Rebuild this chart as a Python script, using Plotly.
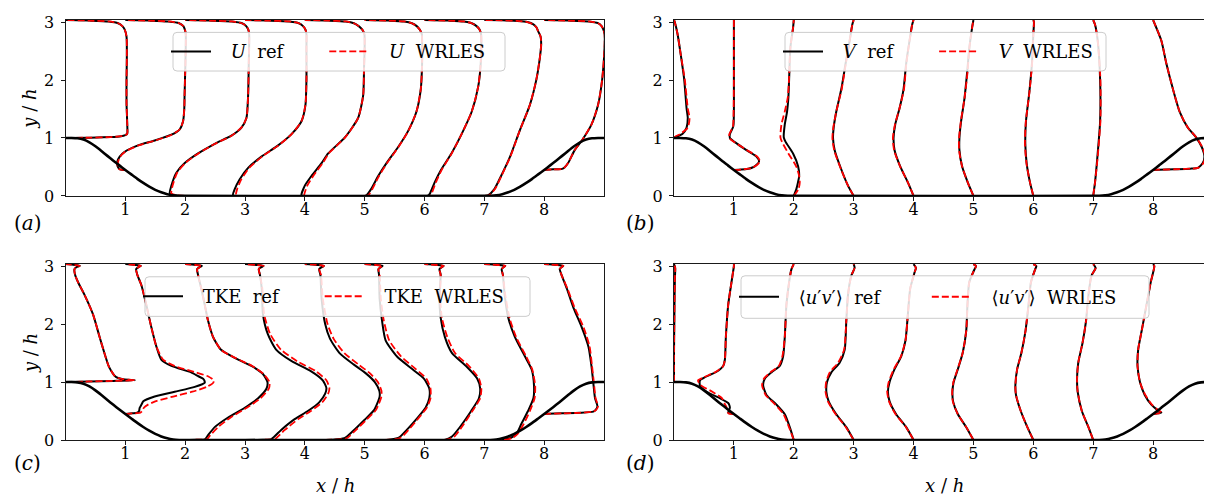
import plotly.graph_objects as go

# ---------------- data ----------------
STATIONS = [0, 1, 2, 3, 4, 5, 6, 7, 8]
X_TICKS = [1, 2, 3, 4, 5, 6, 7, 8]
Y_TICKS = [0, 1, 2, 3]
X_MAX = 9.0
Y_MAX = 3.035

# hill contour (left half; right half is its mirror image at x = 9)
HILL_X = [0.0, 0.1, 0.2, 0.3, 0.4, 0.5, 0.6, 0.7, 0.8, 0.9, 1.0, 1.1, 1.2, 1.3,
          1.4, 1.5, 1.6, 1.7, 1.8, 1.9, 1.929]
HILL_Y = [1.0, 1.0, 0.994, 0.972, 0.925, 0.857, 0.776, 0.691, 0.607, 0.527, 0.448,
          0.371, 0.295, 0.224, 0.160, 0.105, 0.062, 0.030, 0.010, 0.001, 0.0]

# profiles: values are given in plot units (profile displacement from its station)
# ---- (a) U ----
U_Y = [
    [1.0, 1.005, 1.015, 1.03, 1.05, 1.07, 1.1, 1.3, 1.6, 2.0, 2.4, 2.75, 2.87, 2.93, 2.98, 3.01, 3.025, 3.035],
    [0.448, 0.46, 0.5, 0.594, 0.678, 0.761, 0.872, 0.956, 1.056, 1.15, 1.289, 1.5, 1.733, 2.289, 2.79, 2.87, 2.93, 2.98, 3.01, 3.025, 3.035],
    [0, 0.008, 0.04, 0.178, 0.4, 0.567, 0.733, 0.9, 1.039, 1.178, 1.344, 1.733, 2.289, 2.79, 2.87, 2.93, 2.98, 3.01, 3.025, 3.035],
    [0, 0.01, 0.122, 0.289, 0.483, 0.678, 0.872, 1.067, 1.289, 1.567, 2.01, 2.567, 2.79, 2.87, 2.93, 2.98, 3.01, 3.025, 3.035],
    [0, 0.011, 0.178, 0.344, 0.567, 0.733, 1.01, 1.344, 1.733, 2.233, 2.567, 2.79, 2.87, 2.93, 2.98, 3.01, 3.025, 3.035],
    [0, 0.01, 0.122, 0.344, 0.567, 0.844, 1.122, 1.456, 1.844, 2.289, 2.678, 2.79, 2.87, 2.93, 2.98, 3.01, 3.025, 3.035],
    [0, 0.005, 0.04, 0.233, 0.456, 0.733, 1.067, 1.456, 1.9, 2.289, 2.678, 2.79, 2.87, 2.93, 2.98, 3.01, 3.025, 3.035],
    [0, 0.01, 0.122, 0.344, 0.678, 1.122, 1.567, 2.01, 2.4, 2.62, 2.75, 2.84, 2.91, 2.96, 3.0, 3.02, 3.03, 3.035],
    [0.448, 0.452, 0.458, 0.467, 0.49, 0.567, 0.79, 0.956, 1.23, 1.567, 2.01, 2.57, 2.79, 2.87, 2.93, 2.98, 3.01, 3.025, 3.035],
]
U_REF = [
    [0, 0.4, 0.75, 0.93, 1.0, 1.03, 1.035, 1.03, 1.02, 1.02, 1.025, 1.02, 0.99, 0.95, 0.88, 0.72, 0.4, 0],
    [0, -0.09, -0.125, -0.133, -0.094, -0.011, 0.212, 0.491, 0.77, 0.909, 0.965, 0.985, 0.99, 1.004, 1.01, 0.995, 0.97, 0.9, 0.72, 0.4, 0],
    [0, -0.15, -0.258, -0.23, -0.147, -0.007, 0.215, 0.494, 0.773, 0.94, 1.024, 1.052, 1.063, 1.07, 1.055, 1.02, 0.95, 0.78, 0.4, 0],
    [0, -0.2, -0.17, -0.088, 0.052, 0.275, 0.554, 0.777, 0.944, 1.01, 1.027, 1.027, 1.027, 1.01, 0.97, 0.9, 0.74, 0.4, 0],
    [0, -0.056, 0.0, 0.11, 0.28, 0.39, 0.67, 0.89, 0.975, 0.99, 1.0, 0.995, 0.96, 0.9, 0.82, 0.68, 0.4, 0],
    [0, 0.03, 0.11, 0.226, 0.365, 0.56, 0.727, 0.866, 0.938, 0.96, 0.96, 0.955, 0.92, 0.87, 0.79, 0.66, 0.4, 0],
    [0, 0.06, 0.09, 0.17, 0.28, 0.45, 0.62, 0.79, 0.9, 0.94, 0.95, 0.945, 0.92, 0.87, 0.79, 0.66, 0.4, 0],
    [0, 0.06, 0.17, 0.28, 0.43, 0.59, 0.76, 0.87, 0.93, 0.95, 0.94, 0.9, 0.87, 0.82, 0.72, 0.55, 0.3, 0],
    [0, 0.04, 0.15, 0.3, 0.34, 0.4, 0.51, 0.63, 0.79, 0.9, 0.97, 1.01, 1.01, 0.99, 0.96, 0.9, 0.75, 0.4, 0],
]
U_LES = [
    [0, 0.4, 0.75, 0.93, 1.0, 1.03, 1.035, 1.03, 1.02, 1.02, 1.025, 1.02, 0.99, 0.95, 0.88, 0.72, 0.4, 0],
    [0, -0.1, -0.13, -0.12, -0.085, -0.005, 0.22, 0.5, 0.775, 0.91, 0.965, 0.985, 0.99, 1.004, 1.01, 0.995, 0.97, 0.9, 0.72, 0.4, 0],
    [0, -0.12, -0.23, -0.21, -0.135, 0.0, 0.22, 0.5, 0.775, 0.94, 1.024, 1.052, 1.063, 1.07, 1.055, 1.02, 0.95, 0.78, 0.4, 0],
    [0, -0.15, -0.13, -0.06, 0.07, 0.285, 0.56, 0.78, 0.944, 1.01, 1.027, 1.027, 1.027, 1.01, 0.97, 0.9, 0.74, 0.4, 0],
    [0, -0.01, 0.04, 0.14, 0.3, 0.4, 0.675, 0.89, 0.975, 0.99, 1.0, 0.995, 0.96, 0.9, 0.82, 0.68, 0.4, 0],
    [0, 0.06, 0.13, 0.24, 0.375, 0.565, 0.73, 0.866, 0.938, 0.96, 0.96, 0.955, 0.92, 0.87, 0.79, 0.66, 0.4, 0],
    [0, 0.1, 0.12, 0.19, 0.29, 0.455, 0.62, 0.79, 0.9, 0.94, 0.95, 0.945, 0.92, 0.87, 0.79, 0.66, 0.4, 0],
    [0, 0.08, 0.18, 0.285, 0.435, 0.59, 0.76, 0.87, 0.93, 0.95, 0.94, 0.9, 0.87, 0.82, 0.72, 0.55, 0.3, 0],
    [0, 0.04, 0.15, 0.3, 0.34, 0.4, 0.51, 0.63, 0.79, 0.9, 0.97, 1.01, 1.01, 0.99, 0.96, 0.9, 0.75, 0.4, 0],
]

# ---- (b) V ----
V_Y = [
    [1.0, 1.03, 1.067, 1.178, 1.344, 1.511, 2.01, 2.456, 2.79, 3.01, 3.035],
    [0.448, 0.455, 0.47, 0.49, 0.53, 0.594, 0.678, 0.789, 0.928, 1.0, 1.067, 1.2, 1.456, 2.01, 2.567, 3.035],
    [0, 0.122, 0.233, 0.344, 0.511, 0.733, 0.928, 1.011, 1.233, 1.456, 1.7, 2.01, 2.567, 2.9, 3.035],
    [0, 0.178, 0.456, 0.789, 1.0, 1.178, 1.456, 1.844, 2.289, 2.678, 2.956, 3.035],
    [0, 0.233, 0.511, 0.789, 1.0, 1.233, 1.511, 1.844, 2.289, 2.678, 2.956, 3.035],
    [0, 0.233, 0.511, 0.789, 1.0, 1.289, 1.678, 2.122, 2.567, 2.9, 3.035],
    [0, 0.233, 0.567, 0.9, 1.289, 1.789, 2.289, 2.79, 3.0, 3.035],
    [0, 0.233, 0.678, 1.289, 2.01, 2.678, 2.956, 3.035],
    [0.448, 0.452, 0.46, 0.47, 0.483, 0.567, 0.678, 0.844, 1.011, 1.178, 1.456, 1.844, 2.289, 2.678, 3.035],
]
V_REF = [
    [0, 0.06, 0.14, 0.21, 0.23, 0.21, 0.17, 0.11, 0.06, 0.01, 0],
    [0, 0.12, 0.24, 0.31, 0.37, 0.42, 0.377, 0.21, 0.017, -0.067, -0.067, -0.01, 0.0, 0.0, 0.0, 0],
    [0, 0.044, 0.07, 0.09, 0.072, -0.012, -0.134, -0.167, -0.15, -0.112, -0.09, -0.078, -0.056, -0.012, 0],
    [0, -0.095, -0.206, -0.317, -0.345, -0.334, -0.29, -0.206, -0.134, -0.067, -0.023, 0],
    [0, -0.095, -0.223, -0.317, -0.334, -0.306, -0.234, -0.167, -0.123, -0.067, -0.023, 0],
    [0, -0.095, -0.19, -0.234, -0.234, -0.206, -0.15, -0.106, -0.067, -0.023, 0],
    [0, -0.056, -0.112, -0.134, -0.123, -0.067, -0.023, 0.0, 0.01, 0],
    [0, 0.03, 0.07, 0.115, 0.115, 0.075, 0.03, 0],
    [0.0, 0.1, 0.35, 0.62, 0.746, 0.829, 0.857, 0.812, 0.718, 0.58, 0.442, 0.331, 0.22, 0.138, 0.0],
]
V_LES = [
    [0, 0.03, 0.1, 0.23, 0.26, 0.23, 0.18, 0.11, 0.06, 0.01, 0],
    [0, 0.12, 0.24, 0.31, 0.38, 0.435, 0.39, 0.22, 0.01, -0.08, -0.075, -0.015, -0.005, 0.0, 0.0, 0],
    [0, 0.08, 0.1, 0.09, 0.04, -0.09, -0.195, -0.223, -0.206, -0.15, -0.1, -0.08, -0.056, -0.012, 0],
    [0, -0.095, -0.21, -0.325, -0.355, -0.34, -0.29, -0.2, -0.13, -0.067, -0.023, 0],
    [0, -0.095, -0.225, -0.325, -0.345, -0.31, -0.234, -0.16, -0.12, -0.067, -0.023, 0],
    [0, -0.095, -0.19, -0.24, -0.24, -0.21, -0.15, -0.1, -0.067, -0.023, 0],
    [0, -0.056, -0.115, -0.14, -0.125, -0.065, -0.02, 0.0, 0.01, 0],
    [0, 0.03, 0.075, 0.12, 0.12, 0.075, 0.03, 0],
    [0.0, 0.1, 0.35, 0.62, 0.75, 0.84, 0.87, 0.82, 0.72, 0.58, 0.442, 0.331, 0.22, 0.138, 0.0],
]

# ---- (c) TKE ----
K_Y = [
    [1.0, 1.01, 1.02, 1.032, 1.04, 1.05, 1.07, 1.11, 1.2, 1.278, 1.5, 1.778, 2.167, 2.5, 2.722, 2.85, 2.95, 2.99, 3.005, 3.02, 3.035],
    [0.448, 0.46, 0.47, 0.5, 0.528, 0.556, 0.611, 0.667, 0.75, 0.833, 0.917, 0.989, 1.028, 1.056, 1.1, 1.167, 1.278, 1.389, 1.611, 1.944, 2.333, 2.667, 2.85, 2.95, 2.99, 3.005, 3.02, 3.035],
    [0, 0.005, 0.012, 0.083, 0.222, 0.389, 0.556, 0.722, 0.889, 1.0, 1.139, 1.278, 1.417, 1.556, 1.778, 2.056, 2.333, 2.611, 2.85, 2.95, 2.99, 3.005, 3.02, 3.035],
    [0, 0.005, 0.015, 0.17, 0.36, 0.5, 0.65, 0.8, 0.9, 1.03, 1.19, 1.36, 1.56, 1.83, 2.17, 2.61, 2.85, 2.95, 2.99, 3.005, 3.02, 3.035],
    [0, 0.005, 0.03, 0.15, 0.35, 0.52, 0.75, 0.85, 1.0, 1.15, 1.3, 1.5, 1.75, 2.0, 2.44, 2.85, 2.95, 2.99, 3.005, 3.02, 3.035],
    [0, 0.005, 0.04, 0.17, 0.39, 0.56, 0.72, 0.89, 1.06, 1.22, 1.44, 1.72, 2.06, 2.44, 2.85, 2.95, 2.99, 3.005, 3.02, 3.035],
    [0, 0.005, 0.06, 0.22, 0.5, 0.72, 0.89, 1.06, 1.28, 1.5, 1.78, 2.11, 2.5, 2.85, 2.95, 2.99, 3.005, 3.02, 3.035],
    [0, 0.005, 0.03, 0.11, 0.28, 0.5, 0.72, 0.94, 1.22, 1.44, 1.78, 2.11, 2.5, 2.85, 2.95, 2.99, 3.005, 3.02, 3.035],
    [0.448, 0.452, 0.46, 0.47, 0.49, 0.52, 0.583, 0.72, 1.0, 1.28, 1.61, 1.94, 2.28, 2.61, 2.85, 2.95, 2.99, 3.005, 3.02, 3.035],
]
K_REF = [
    [0, 0.4, 0.8, 1.16, 1.05, 0.96, 0.88, 0.82, 0.76, 0.72, 0.65, 0.57, 0.46, 0.32, 0.21, 0.16, 0.15, 0.2, 0.24, 0.15, 0],
    [0, 0.12, 0.2, 0.23, 0.235, 0.24, 0.27, 0.3, 0.49, 0.825, 1.16, 1.327, 1.32, 1.3, 1.22, 1.1, 0.77, 0.6, 0.519, 0.435, 0.35, 0.27, 0.2, 0.18, 0.23, 0.26, 0.16, 0],
    [0, 0.2, 0.33, 0.383, 0.494, 0.717, 0.996, 1.22, 1.36, 1.375, 1.3, 1.108, 0.829, 0.6, 0.466, 0.383, 0.327, 0.27, 0.215, 0.2, 0.26, 0.28, 0.17, 0],
    [0, 0.3, 0.44, 0.6, 0.83, 1.05, 1.24, 1.34, 1.36, 1.3, 1.1, 0.78, 0.52, 0.38, 0.3, 0.28, 0.25, 0.23, 0.29, 0.31, 0.19, 0],
    [0, 0.45, 0.66, 0.8, 1.0, 1.16, 1.25, 1.245, 1.17, 1.02, 0.82, 0.58, 0.42, 0.34, 0.28, 0.26, 0.24, 0.3, 0.32, 0.2, 0],
    [0, 0.4, 0.57, 0.7, 0.89, 1.02, 1.08, 1.08, 0.99, 0.8, 0.54, 0.35, 0.29, 0.25, 0.24, 0.23, 0.28, 0.3, 0.18, 0],
    [0, 0.35, 0.46, 0.59, 0.78, 0.91, 0.93, 0.88, 0.69, 0.46, 0.34, 0.27, 0.25, 0.27, 0.25, 0.3, 0.32, 0.2, 0],
    [0, 0.3, 0.43, 0.54, 0.62, 0.73, 0.82, 0.83, 0.79, 0.68, 0.51, 0.4, 0.34, 0.31, 0.29, 0.33, 0.35, 0.22, 0],
    [0, 0.05, 0.3, 0.6, 0.82, 0.86, 0.89, 0.85, 0.82, 0.79, 0.74, 0.63, 0.49, 0.38, 0.29, 0.26, 0.3, 0.32, 0.2, 0],
]
K_LES = [
    [0, 0.4, 0.8, 1.16, 1.05, 0.96, 0.88, 0.82, 0.76, 0.72, 0.65, 0.57, 0.46, 0.32, 0.21, 0.16, 0.15, 0.2, 0.24, 0.15, 0],
    [0, 0.12, 0.25, 0.28, 0.296, 0.31, 0.38, 0.5, 0.8, 1.12, 1.36, 1.47, 1.48, 1.45, 1.38, 1.18, 0.82, 0.63, 0.519, 0.435, 0.35, 0.27, 0.2, 0.18, 0.23, 0.26, 0.16, 0],
    [0, 0.2, 0.36, 0.42, 0.55, 0.76, 1.03, 1.26, 1.4, 1.41, 1.31, 1.12, 0.835, 0.6, 0.466, 0.383, 0.327, 0.27, 0.215, 0.2, 0.26, 0.28, 0.17, 0],
    [0, 0.32, 0.5, 0.66, 0.89, 1.1, 1.29, 1.39, 1.41, 1.36, 1.18, 0.87, 0.6, 0.42, 0.32, 0.29, 0.25, 0.23, 0.29, 0.31, 0.19, 0],
    [0, 0.47, 0.7, 0.83, 1.03, 1.19, 1.28, 1.28, 1.22, 1.09, 0.9, 0.66, 0.48, 0.38, 0.3, 0.27, 0.24, 0.3, 0.32, 0.2, 0],
    [0, 0.42, 0.6, 0.73, 0.91, 1.04, 1.1, 1.1, 1.03, 0.86, 0.61, 0.41, 0.32, 0.27, 0.25, 0.23, 0.28, 0.3, 0.18, 0],
    [0, 0.37, 0.5, 0.62, 0.8, 0.93, 0.95, 0.91, 0.74, 0.51, 0.38, 0.29, 0.26, 0.27, 0.25, 0.3, 0.32, 0.2, 0],
    [0, 0.32, 0.46, 0.56, 0.66, 0.76, 0.84, 0.85, 0.8, 0.7, 0.53, 0.42, 0.35, 0.31, 0.29, 0.33, 0.35, 0.22, 0],
    [0, 0.05, 0.3, 0.6, 0.82, 0.87, 0.9, 0.86, 0.83, 0.8, 0.76, 0.66, 0.51, 0.39, 0.29, 0.26, 0.3, 0.32, 0.2, 0],
]

# ---- (d) <u'v'> ----
UV_Y = [
    [1.0, 1.5, 2.0, 2.5, 2.8, 2.97, 3.035],
    [0.448, 0.46, 0.472, 0.52, 0.556, 0.6, 0.639, 0.722, 0.833, 0.944, 1.028, 1.083, 1.178, 1.278, 1.389, 1.778, 2.333, 2.722, 3.0, 3.035],
    [0, 0.222, 0.444, 0.611, 0.778, 0.944, 1.056, 1.167, 1.278, 1.444, 1.778, 2.333, 2.722, 2.944, 3.035],
    [0, 0.222, 0.444, 0.667, 0.833, 1.0, 1.167, 1.333, 1.556, 2.056, 2.5, 2.833, 2.972, 3.035],
    [0, 0.222, 0.444, 0.667, 0.833, 1.0, 1.222, 1.444, 1.722, 2.167, 2.611, 2.889, 2.97, 3.035],
    [0, 0.222, 0.444, 0.667, 0.833, 1.0, 1.222, 1.5, 1.889, 2.333, 2.722, 2.944, 3.0, 3.035],
    [0, 0.222, 0.5, 0.778, 0.944, 1.222, 1.5, 1.889, 2.333, 2.722, 2.944, 3.0, 3.035],
    [0, 0.222, 0.5, 0.833, 1.056, 1.333, 1.667, 2.056, 2.5, 2.833, 2.97, 3.035],
    [0.448, 0.46, 0.472, 0.52, 0.611, 0.778, 1.0, 1.278, 1.556, 1.889, 2.333, 2.722, 3.0, 3.035],
]
UV_REF = [
    [0, 0.0, 0.005, 0.01, 0.015, 0.02, 0],
    [0, -0.06, -0.095, -0.08, -0.067, -0.075, -0.095, -0.234, -0.456, -0.567, -0.567, -0.484, -0.29, -0.178, -0.15, -0.134, -0.095, -0.04, 0, 0],
    [0, -0.067, -0.15, -0.29, -0.456, -0.512, -0.484, -0.373, -0.234, -0.178, -0.15, -0.123, -0.078, -0.04, 0],
    [0, -0.123, -0.29, -0.417, -0.456, -0.445, -0.373, -0.234, -0.15, -0.123, -0.095, -0.04, 0.016, 0],
    [0, -0.123, -0.29, -0.4, -0.428, -0.4, -0.317, -0.206, -0.134, -0.095, -0.056, 0.016, 0.04, 0],
    [0, -0.12, -0.26, -0.34, -0.35, -0.33, -0.26, -0.18, -0.12, -0.1, -0.07, 0.017, 0.044, 0],
    [0, -0.1, -0.21, -0.29, -0.3, -0.27, -0.2, -0.13, -0.08, -0.04, 0.03, 0.05, 0],
    [0, -0.08, -0.19, -0.26, -0.27, -0.25, -0.18, -0.12, -0.08, -0.03, 0.04, 0],
    [0, 0.08, 0.14, 0.07, -0.03, -0.14, -0.22, -0.26, -0.25, -0.19, -0.11, -0.04, 0.02, 0],
]
UV_LES = [
    [0, 0.0, 0.005, 0.01, 0.015, 0.02, 0],
    [0, -0.09, -0.1, -0.11, -0.12, -0.14, -0.16, -0.2, -0.36, -0.55, -0.6, -0.5, -0.3, -0.178, -0.15, -0.134, -0.095, -0.04, 0, 0],
    [0, -0.08, -0.17, -0.31, -0.47, -0.53, -0.5, -0.39, -0.25, -0.19, -0.15, -0.123, -0.078, -0.04, 0],
    [0, -0.13, -0.3, -0.43, -0.47, -0.46, -0.4, -0.26, -0.16, -0.123, -0.095, -0.04, 0.016, 0],
    [0, -0.125, -0.3, -0.41, -0.44, -0.415, -0.33, -0.21, -0.134, -0.095, -0.056, 0.016, 0.04, 0],
    [0, -0.12, -0.26, -0.345, -0.355, -0.335, -0.265, -0.18, -0.12, -0.1, -0.07, 0.017, 0.044, 0],
    [0, -0.1, -0.21, -0.29, -0.3, -0.27, -0.2, -0.13, -0.08, -0.04, 0.03, 0.05, 0],
    [0, -0.08, -0.19, -0.26, -0.27, -0.25, -0.18, -0.12, -0.08, -0.03, 0.04, 0],
    [0, 0.09, 0.15, 0.08, -0.02, -0.13, -0.22, -0.26, -0.25, -0.19, -0.11, -0.04, 0.02, 0],
]

QUANTITY_LABELS = ["<i>U</i>", "<i>V</i>", "TKE", "\u27e8<i>u</i>\u2032<i>v</i>\u2032\u27e9"]
PANEL_TAGS = ["(<i>a</i>)", "(<i>b</i>)", "(<i>c</i>)", "(<i>d</i>)"]

# ---------------- layout geometry ----------------
W, H = 1212, 499
FONT = "DejaVu Serif, Liberation Serif, serif"
XDOM = [[57.5 / W, 596 / W], [666 / W, 1205 / W], [57.5 / W, 596 / W], [666 / W, 1205 / W]]
YDOM = [[1 - 187.3 / H, 1 - 5.2 / H], [1 - 187.3 / H, 1 - 5.2 / H],
        [1 - 440 / H, 1 - 257.9 / H], [1 - 440 / H, 1 - 257.9 / H]]
# legend frames in pixels: left, top, right, bottom
FRAMES = [(165, 18, 497, 58), (777, 18, 1098, 58), (137, 271, 522, 312), (733, 270, 1141, 314)]
# trailing padding after the first legend entry (to match the reference spacing)
PAD_AFTER_REF = ["\u2003\u2003", "\u2003\u2003", "\u2003\u2003", "\u2003\u2003\u00a0"]

fig = go.Figure()
PANELS = [(U_Y, U_REF, U_LES), (V_Y, V_REF, V_LES), (K_Y, K_REF, K_LES), (UV_Y, UV_REF, UV_LES)]

hill_x = HILL_X + [X_MAX - hx for hx in reversed(HILL_X)]
hill_y = HILL_Y + list(reversed(HILL_Y))

for k, (py, pref, ples) in enumerate(PANELS):
    s = "" if k == 0 else str(k + 1)
    lg = "legend" + s
    lab = QUANTITY_LABELS[k]
    for i, x0 in enumerate(STATIONS):
        fig.add_trace(go.Scatter(
            x=[x0 + v for v in pref[i]], y=py[i], mode="lines",
            line=dict(color="black", width=2, shape="spline", smoothing=0.6),
            name="\u2002\u00a0" + lab + "\u00a0\u00a0ref" + PAD_AFTER_REF[k],
            showlegend=(i == 0), legend=lg,
            xaxis="x" + s, yaxis="y" + s, hoverinfo="skip"))
        fig.add_trace(go.Scatter(
            x=[x0 + v for v in ples[i]], y=py[i], mode="lines",
            line=dict(color="#ff0000", width=1.8, dash="7px,3px", shape="spline", smoothing=0.6),
            name="\u2002\u00a0" + lab + "\u00a0\u00a0WRLES", showlegend=(i == 0), legend=lg,
            xaxis="x" + s, yaxis="y" + s, hoverinfo="skip"))
    fig.add_trace(go.Scatter(
        x=hill_x, y=hill_y, mode="lines",
        line=dict(color="black", width=2.6, shape="spline", smoothing=0.5),
        showlegend=False, xaxis="x" + s, yaxis="y" + s, hoverinfo="skip"))

layout = dict(width=W, height=H, autosize=False, margin=dict(l=0, r=0, t=0, b=0),
              paper_bgcolor="white", plot_bgcolor="white",
              font=dict(family=FONT, size=16, color="black"))
axis_common = dict(showline=True, mirror=True, linecolor="#1a1a1a", linewidth=1,
                   ticks="outside", ticklen=4, tickwidth=1, tickcolor="#1a1a1a",
                   showgrid=False, zeroline=False,
                   tickfont=dict(family=FONT, size=16, color="black"))
shapes = []
for k in range(4):
    s = "" if k == 0 else str(k + 1)
    layout["xaxis" + s] = dict(domain=XDOM[k], range=[0, X_MAX], tickvals=X_TICKS,
                               anchor="y" + s, ticklabelstandoff=-5, **axis_common)
    layout["yaxis" + s] = dict(domain=YDOM[k], range=[0, Y_MAX], tickvals=Y_TICKS,
                               anchor="x" + s, ticklabelstandoff=3, **axis_common)
    l, t, r, b = FRAMES[k]
    layout["legend" + s] = dict(x=(l - 7) / W, y=1 - ((t + b) / 2) / H, xanchor="left", yanchor="middle",
                                orientation="h", bgcolor="rgba(0,0,0,0)", borderwidth=0,
                                itemwidth=40, font=dict(family=FONT, size=18, color="black"))
    # rounded legend frame
    rad = 4.0
    X = lambda px: px / W
    Y = lambda py_: 1 - py_ / H
    path = (f"M {X(l + rad)},{Y(t)} L {X(r - rad)},{Y(t)} Q {X(r)},{Y(t)} {X(r)},{Y(t + rad)} "
            f"L {X(r)},{Y(b - rad)} Q {X(r)},{Y(b)} {X(r - rad)},{Y(b)} "
            f"L {X(l + rad)},{Y(b)} Q {X(l)},{Y(b)} {X(l)},{Y(b - rad)} "
            f"L {X(l)},{Y(t + rad)} Q {X(l)},{Y(t)} {X(l + rad)},{Y(t)} Z")
    shapes.append(dict(type="path", path=path, xref="paper", yref="paper",
                       fillcolor="rgba(255,255,255,0.85)", line=dict(color="#cccccc", width=1),
                       layer="above"))
layout["shapes"] = shapes

ann = []
tag_pos = [(20, 215), (632, 215), (20, 464), (632, 464)]
for k in range(4):
    ann.append(dict(text=PANEL_TAGS[k], x=tag_pos[k][0] / W, y=1 - tag_pos[k][1] / H,
                    xref="paper", yref="paper", showarrow=False, xanchor="center", yanchor="middle",
                    font=dict(family=FONT, size=20, color="black")))
for yy in (97, 350):
    ann.append(dict(text="<i>y</i> / <i>h</i>", x=22 / W, y=1 - yy / H, xref="paper", yref="paper",
                    showarrow=False, textangle=-90, xanchor="center", yanchor="middle",
                    font=dict(family=FONT, size=18, color="black")))
for xx in (327, 936):
    ann.append(dict(text="<i>x</i> / <i>h</i>", x=xx / W, y=1 - 487 / H, xref="paper", yref="paper",
                    showarrow=False, xanchor="center", yanchor="middle",
                    font=dict(family=FONT, size=18, color="black")))
layout["annotations"] = ann

fig.update_layout(**layout)
fig.write_html("out.html")
